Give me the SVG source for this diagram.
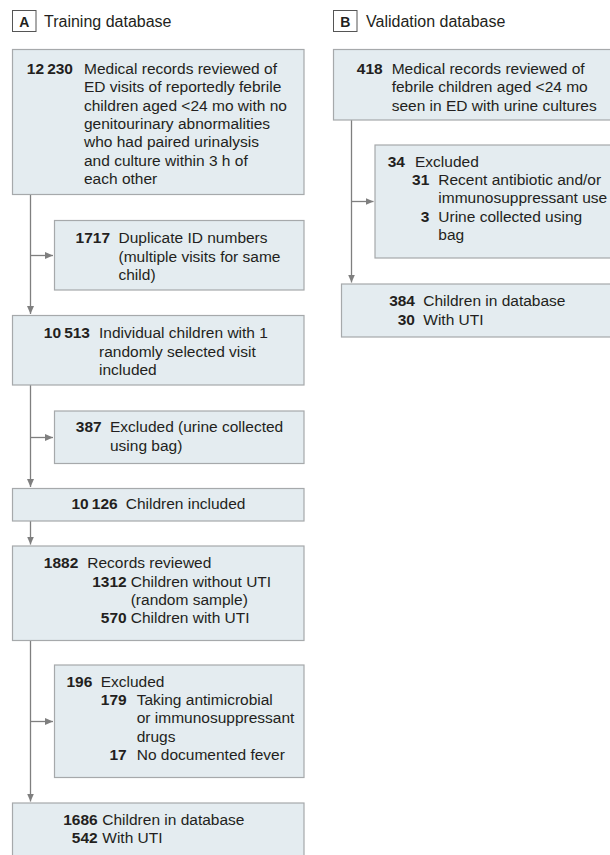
<svg xmlns="http://www.w3.org/2000/svg" width="610" height="855" viewBox="0 0 610 855">
<style>
text{font-family:"Liberation Sans",Arial,sans-serif;font-size:15.5px;fill:#231f20}
.n{font-weight:bold;text-anchor:end}
.box{fill:#e4ecf0;stroke:#a6a9ab;stroke-width:1.2}
.lbl{fill:#fff;stroke:#555;stroke-width:1}
.lt{font-weight:bold;text-anchor:middle;font-size:14px}
.c{fill:none;stroke:#7f7f7f;stroke-width:1.3}
</style>
<defs>
<marker id="ah" markerUnits="userSpaceOnUse" markerWidth="9" markerHeight="8" refX="8" refY="3.5" orient="auto">
<path d="M0,0 L8,3.5 L0,7 z" fill="#7f7f7f"/>
</marker>
</defs>
<rect width="610" height="855" fill="#fff"/>
<g id="labelA">
<rect class="lbl" x="12.5" y="10.5" width="23.5" height="21"/>
<text class="lt" x="24.3" y="26.5">A</text>
<text x="44" y="26.5" style="font-size:16px">Training database</text>
</g>
<g id="labelB">
<rect class="lbl" x="333.5" y="10.5" width="23.5" height="21"/>
<text class="lt" x="345.3" y="26.5">B</text>
<text x="366" y="26.5" style="font-size:16px">Validation database</text>
</g>
<g id="connectors">
<line class="c" x1="30.5" y1="194.5" x2="30.5" y2="314" marker-end="url(#ah)"/>
<line class="c" x1="30.5" y1="255.5" x2="53" y2="255.5" marker-end="url(#ah)"/>
<line class="c" x1="30.5" y1="385" x2="30.5" y2="487" marker-end="url(#ah)"/>
<line class="c" x1="30.5" y1="437.5" x2="53" y2="437.5" marker-end="url(#ah)"/>
<line class="c" x1="30.5" y1="521" x2="30.5" y2="544.5" marker-end="url(#ah)"/>
<line class="c" x1="30.5" y1="640.5" x2="30.5" y2="801.5" marker-end="url(#ah)"/>
<line class="c" x1="30.5" y1="721.5" x2="53" y2="721.5" marker-end="url(#ah)"/>
<line class="c" x1="351.5" y1="120" x2="351.5" y2="282.5" marker-end="url(#ah)"/>
<line class="c" x1="351.5" y1="201.5" x2="373.5" y2="201.5" marker-end="url(#ah)"/>
</g>
<g id="n1">
<rect class="box" x="12.5" y="49.5" width="291.5" height="145"/>
<text class="n" x="73" y="74">12&#8201;230</text>
<text x="84" y="74">Medical records reviewed of</text>
<text x="84" y="92.3">ED visits of reportedly febrile</text>
<text x="84" y="110.6">children aged &lt;24 mo with no</text>
<text x="84" y="128.9">genitourinary abnormalities</text>
<text x="84" y="147.2">who had paired urinalysis</text>
<text x="84" y="165.5">and culture within 3 h of</text>
<text x="84" y="183.8">each other</text>
</g>
<g id="n2">
<rect class="box" x="54.5" y="220.5" width="249.5" height="69.5"/>
<text class="n" x="110" y="243.3">1717</text>
<text x="118.5" y="243.3">Duplicate ID numbers</text>
<text x="118.5" y="261.6">(multiple visits for same</text>
<text x="118.5" y="279.9">child)</text>
</g>
<g id="n3">
<rect class="box" x="12.5" y="315.5" width="291.5" height="69.5"/>
<text class="n" x="90" y="338.3">10&#8201;513</text>
<text x="99" y="338.3">Individual children with 1</text>
<text x="99" y="356.6">randomly selected visit</text>
<text x="99" y="374.9">included</text>
</g>
<g id="n4">
<rect class="box" x="54.5" y="411" width="249.5" height="52.5"/>
<text class="n" x="101.7" y="432.3">387</text>
<text x="110" y="432.3">Excluded (urine collected</text>
<text x="110" y="450.6">using bag)</text>
</g>
<g id="n5">
<rect class="box" x="12.5" y="488.5" width="291.5" height="32.5"/>
<text class="n" x="117.7" y="509.3">10&#8201;126</text>
<text x="125.7" y="509.3">Children included</text>
</g>
<g id="n6">
<rect class="box" x="12.5" y="546" width="291.5" height="94.5"/>
<text class="n" x="78.3" y="568.3">1882</text>
<text x="87.3" y="568.3">Records reviewed</text>
<text class="n" x="126.7" y="586.6">1312</text>
<text x="130.7" y="586.6">Children without UTI</text>
<text x="130.7" y="604.9">(random sample)</text>
<text class="n" x="126.7" y="623.2">570</text>
<text x="130.7" y="623.2">Children with UTI</text>
</g>
<g id="n7">
<rect class="box" x="54.5" y="665" width="249.5" height="112.5"/>
<text class="n" x="92.3" y="686.7">196</text>
<text x="100.7" y="686.7">Excluded</text>
<text class="n" x="126.7" y="705">179</text>
<text x="136.7" y="705">Taking antimicrobial</text>
<text x="136.7" y="723.3">or immunosuppressant</text>
<text x="136.7" y="741.6">drugs</text>
<text class="n" x="126.7" y="759.9">17</text>
<text x="136.7" y="759.9">No documented fever</text>
</g>
<g id="n8">
<rect class="box" x="12.5" y="803" width="291.5" height="70"/>
<text class="n" x="97.7" y="825">1686</text>
<text x="102.3" y="825">Children in database</text>
<text class="n" x="97.7" y="843.3">542</text>
<text x="102.3" y="843.3">With UTI</text>
</g>
<g id="b1">
<rect class="box" x="333.5" y="49.5" width="290" height="70.5"/>
<text class="n" x="382.7" y="74">418</text>
<text x="391.7" y="74">Medical records reviewed of</text>
<text x="391.7" y="92.3">febrile children aged &lt;24 mo</text>
<text x="391.7" y="110.6">seen in ED with urine cultures</text>
</g>
<g id="b2">
<rect class="box" x="375" y="145" width="250" height="113"/>
<text class="n" x="405" y="166.7">34</text>
<text x="415" y="166.7">Excluded</text>
<text class="n" x="429.3" y="185">31</text>
<text x="438.3" y="185">Recent antibiotic and/or</text>
<text x="438.3" y="203.3">immunosuppressant use</text>
<text class="n" x="429.3" y="221.6">3</text>
<text x="438.3" y="221.6">Urine collected using</text>
<text x="438.3" y="239.9">bag</text>
</g>
<g id="b3">
<rect class="box" x="341.5" y="284" width="280" height="53"/>
<text class="n" x="415" y="306">384</text>
<text x="423.3" y="306">Children in database</text>
<text class="n" x="415" y="325">30</text>
<text x="423.3" y="325">With UTI</text>
</g>
</svg>
